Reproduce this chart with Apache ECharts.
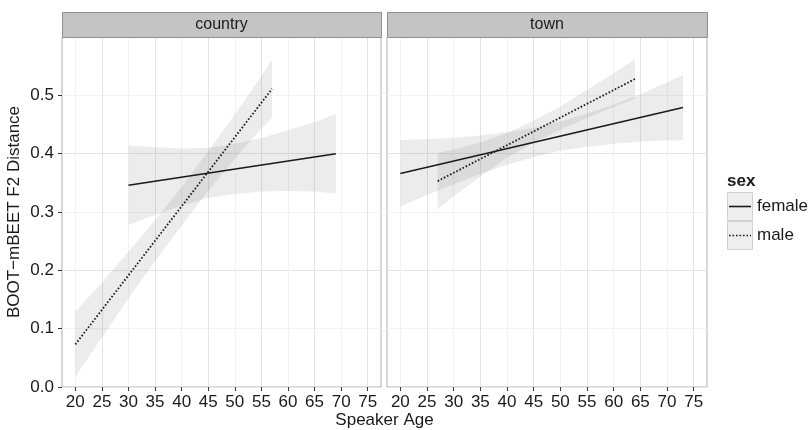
<!DOCTYPE html>
<html>
<head>
<meta charset="utf-8">
<script src="https://cdn.jsdelivr.net/npm/echarts@6/dist/echarts.min.js"></script>
<style>
  html, body { margin: 0; padding: 0; background: #ffffff; }
  #chart { width: 809px; height: 430px; }
</style>
</head>
<body>
<div id="chart"></div>
<script>
// Facet panels and legend entries
const panels = ['country', 'town'];
const sexes = ['female', 'male'];

// Axis tick labels
const xTicks = [20, 25, 30, 35, 40, 45, 50, 55, 60, 65, 70, 75];
const yTicks = [0, 0.1, 0.2, 0.3, 0.4, 0.5];

// Fitted regression lines: [speaker age, distance] at each end
const countryFemaleLine = [[30, 0.346], [69, 0.400]];
const countryMaleLine   = [[20, 0.073], [57, 0.511]];
const townFemaleLine    = [[20, 0.366], [73, 0.479]];
const townMaleLine      = [[27, 0.353], [64, 0.528]];

// Confidence bands: ages with lower and upper bounds
const countryFemaleAge   = [30, 35, 40, 45, 50, 55, 60, 65, 69];
const countryFemaleLower = [0.278, 0.295, 0.311, 0.324, 0.331, 0.335, 0.336, 0.335, 0.332];
const countryFemaleUpper = [0.414, 0.411, 0.409, 0.410, 0.417, 0.427, 0.440, 0.454, 0.468];

const countryMaleAge   = [20, 25, 30, 35, 40, 45, 50, 55, 57];
const countryMaleLower = [0.017, 0.085, 0.152, 0.216, 0.277, 0.336, 0.391, 0.443, 0.461];
const countryMaleUpper = [0.129, 0.179, 0.232, 0.286, 0.343, 0.404, 0.467, 0.533, 0.561];

const townFemaleAge   = [20, 25, 30, 35, 40, 45, 50, 55, 60, 65, 70, 73];
const townFemaleLower = [0.309, 0.329, 0.347, 0.365, 0.381, 0.394, 0.405, 0.412, 0.417, 0.421, 0.423, 0.423];
const townFemaleUpper = [0.423, 0.425, 0.427, 0.431, 0.437, 0.444, 0.455, 0.469, 0.484, 0.502, 0.522, 0.535];

const townMaleAge   = [27, 30, 35, 40, 45, 50, 55, 60, 64];
const townMaleLower = [0.305, 0.327, 0.361, 0.393, 0.419, 0.441, 0.461, 0.480, 0.494];
const townMaleUpper = [0.401, 0.407, 0.419, 0.435, 0.457, 0.481, 0.509, 0.538, 0.562];

// Styling
const FONT = 'Liberation Sans, Arial, Helvetica, sans-serif';
const INK = '#1a1a1a';
const BAND_FILL = 'rgba(120,120,120,0.14)';
const MAJOR_GRID = '#e4e4e4';
const MINOR_GRID = '#f2f2f2';
const DOT_DASH = [1.6, 1.9];

const panelBoxes = [
  { left: 62, top: 37, width: 319, height: 350 },
  { left: 387, top: 37, width: 320, height: 350 }
];
const STRIP_H = 25;

const chart = echarts.init(document.getElementById('chart'), null, { renderer: 'canvas' });

function bandSeries(gridIdx, ages, lower, upper) {
  return {
    type: 'custom',
    xAxisIndex: gridIdx,
    yAxisIndex: gridIdx,
    silent: true,
    z: 1,
    data: ages.map((a, i) => [a, lower[i], upper[i]]),
    encode: { x: 0, y: [1, 2] },
    renderItem(params, api) {
      if (params.dataIndex !== 0) return null;
      const top = ages.map((a, i) => api.coord([a, upper[i]]));
      const bottom = ages.map((a, i) => api.coord([a, lower[i]])).reverse();
      return {
        type: 'polygon',
        shape: { points: top.concat(bottom) },
        style: { fill: BAND_FILL }
      };
    }
  };
}

function fitSeries(gridIdx, name, data, dotted) {
  return {
    type: 'line',
    name: name,
    xAxisIndex: gridIdx,
    yAxisIndex: gridIdx,
    data: data,
    symbol: 'none',
    silent: true,
    z: 3,
    lineStyle: {
      color: INK,
      width: dotted ? 1.8 : 1.6,
      type: dotted ? DOT_DASH : 'solid',
      cap: 'butt'
    }
  };
}

function xAxisFor(gridIdx) {
  return {
    gridIndex: gridIdx,
    type: 'value',
    min: 17.5,
    max: 77.5,
    interval: 2.5,
    axisLine: { show: false },
    axisTick: {
      show: true,
      customValues: xTicks,
      length: 4,
      lineStyle: { color: '#333333', width: 1 }
    },
    axisLabel: {
      show: true,
      customValues: xTicks,
      margin: 7,
      fontFamily: FONT,
      fontSize: 17,
      color: INK
    },
    splitLine: { show: true, lineStyle: { color: [MINOR_GRID, MAJOR_GRID], width: 1 } }
  };
}

function yAxisFor(gridIdx) {
  const first = gridIdx === 0;
  return {
    gridIndex: gridIdx,
    type: 'value',
    min: 0,
    max: 0.6,
    interval: 0.05,
    axisLine: { show: false },
    axisTick: {
      show: first,
      customValues: yTicks,
      length: 4,
      lineStyle: { color: '#333333', width: 1 }
    },
    axisLabel: {
      show: first,
      customValues: yTicks,
      margin: 8,
      fontFamily: FONT,
      fontSize: 17,
      color: INK,
      formatter: v => Number(v).toFixed(1)
    },
    splitLine: { show: true, lineStyle: { color: [MAJOR_GRID, MINOR_GRID], width: 1 } },
    name: first ? 'BOOT\u2212mBEET F2 Distance' : '',
    nameLocation: 'middle',
    nameRotate: 90,
    nameGap: 39,
    nameTextStyle: { fontFamily: FONT, fontSize: 17, color: INK }
  };
}

// Facet strips above each panel
const stripGraphics = [];
panels.forEach((label, i) => {
  const b = panelBoxes[i];
  stripGraphics.push({
    type: 'rect',
    shape: { x: b.left + 0.5, y: b.top - STRIP_H + 0.5, width: b.width, height: STRIP_H },
    style: { fill: '#c4c4c4', stroke: '#8f8f8f', lineWidth: 1 },
    z: 10
  });
  stripGraphics.push({
    type: 'text',
    x: b.left + b.width / 2,
    y: b.top - STRIP_H / 2,
    style: {
      text: label, fill: INK, font: '16px ' + FONT,
      textAlign: 'center', textVerticalAlign: 'middle'
    },
    z: 11
  });
});

// Shared x-axis title
const xTitle = {
  type: 'text',
  x: (panelBoxes[0].left + panelBoxes[1].left + panelBoxes[1].width) / 2,
  y: 420,
  style: {
    text: 'Speaker Age', fill: INK, font: '17px ' + FONT,
    textAlign: 'center', textVerticalAlign: 'middle'
  },
  z: 11
};

// Legend for sex: title, keys with band fill and line type, labels
const LEG_X = 727;
const legendGraphics = [
  {
    type: 'text', x: LEG_X, y: 181,
    style: { text: 'sex', fill: INK, font: 'bold 17px ' + FONT, textVerticalAlign: 'middle' },
    z: 11
  }
];
const keyTops = [192, 221];
const keyH = 29;
sexes.forEach((s, i) => {
  const top = keyTops[i];
  const cy = top + keyH / 2;
  legendGraphics.push({
    type: 'rect',
    shape: { x: LEG_X + 0.5, y: top + 0.5, width: 25, height: keyH - 1 },
    style: { fill: '#eeeeee', stroke: '#d2d2d2', lineWidth: 1 },
    z: 10
  });
  legendGraphics.push({
    type: 'line',
    shape: { x1: LEG_X + 2, y1: cy, x2: LEG_X + 24, y2: cy },
    style: {
      stroke: INK,
      lineWidth: s === 'male' ? 1.4 : 1.6,
      lineDash: s === 'male' ? DOT_DASH : null
    },
    z: 11
  });
  legendGraphics.push({
    type: 'text', x: LEG_X + 30, y: cy,
    style: { text: s, fill: INK, font: '17px ' + FONT, textVerticalAlign: 'middle' },
    z: 11
  });
});

const option = {
  animation: false,
  backgroundColor: '#ffffff',
  grid: panelBoxes.map(b => ({
    left: b.left, top: b.top, width: b.width, height: b.height,
    show: true, backgroundColor: '#ffffff', borderColor: '#b0b0b0', borderWidth: 1,
    containLabel: false
  })),
  xAxis: [xAxisFor(0), xAxisFor(1)],
  yAxis: [yAxisFor(0), yAxisFor(1)],
  series: [
    bandSeries(0, countryFemaleAge, countryFemaleLower, countryFemaleUpper),
    bandSeries(0, countryMaleAge, countryMaleLower, countryMaleUpper),
    bandSeries(1, townFemaleAge, townFemaleLower, townFemaleUpper),
    bandSeries(1, townMaleAge, townMaleLower, townMaleUpper),
    fitSeries(0, 'female', countryFemaleLine, false),
    fitSeries(0, 'male', countryMaleLine, true),
    fitSeries(1, 'female', townFemaleLine, false),
    fitSeries(1, 'male', townMaleLine, true)
  ],
  graphic: stripGraphics.concat([xTitle], legendGraphics)
};

chart.setOption(option);
</script>
</body>
</html>
